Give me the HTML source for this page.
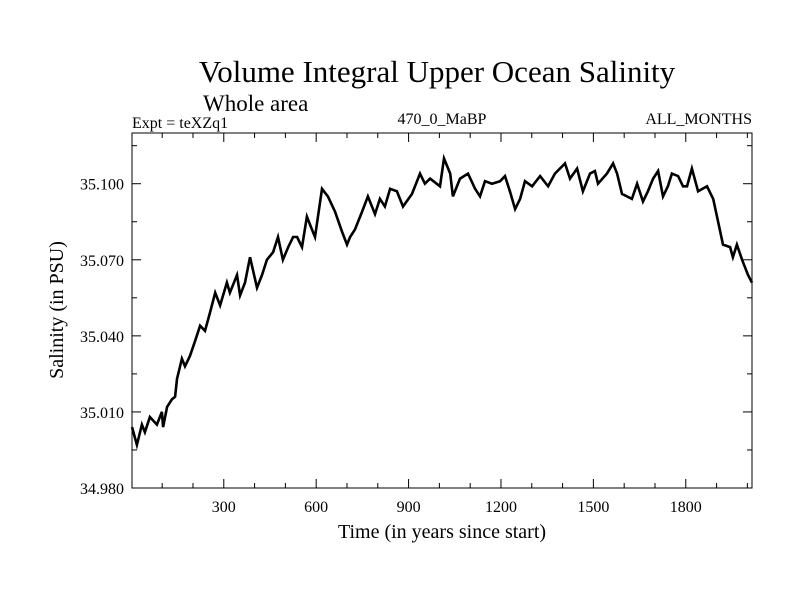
<!DOCTYPE html>
<html><head><meta charset="utf-8"><style>
body{margin:0;background:#fff}
svg text{font-family:"Liberation Serif",serif;fill:#000}
</style></head><body>
<svg id="chart" width="800" height="600">
<text x="437" y="82" font-size="31" text-anchor="middle">Volume Integral Upper Ocean Salinity</text>
<text x="203" y="111" font-size="23">Whole area</text>
<text x="132" y="128" font-size="16">Expt = teXZq1</text>
<text x="442" y="124" font-size="16" text-anchor="middle">470_0_MaBP</text>
<text x="752" y="124" font-size="16" text-anchor="end">ALL_MONTHS</text>
<text x="442" y="538" font-size="20" text-anchor="middle">Time (in years since start)</text>
<text transform="translate(63,310) rotate(-90)" font-size="20" text-anchor="middle">Salinity (in PSU)</text>
<g id="axes"></g>
<polyline id="series" fill="none" stroke="#000" stroke-width="2.6" stroke-linejoin="miter"/>
</svg>
<script>
const xTicks=[300,600,900,1200,1500,1800];
const yTicks=[34.980,35.010,35.040,35.070,35.100];
const yTickLabels=["34.980","35.010","35.040","35.070","35.100"];
const years=[2,18,34,44,60,83,99,103,116,132,142,148,164,174,190,207,223,239,255,272,288,310,320,343,353,369,385,408,424,440,460,476,492,509,525,538,554,570,586,596,619,638,661,684,700,710,726,749,768,791,807,823,840,862,882,911,937,953,970,1002,1015,1035,1044,1067,1093,1116,1132,1148,1171,1197,1213,1229,1246,1262,1278,1301,1327,1353,1375,1408,1424,1447,1466,1489,1505,1515,1544,1564,1577,1593,1625,1642,1661,1677,1694,1710,1726,1742,1755,1775,1791,1804,1820,1840,1869,1889,1905,1921,1944,1953,1966,1983,2002,2015];
const salinity=[35.004,34.997,35.005,35.002,35.008,35.005,35.010,35.004,35.012,35.015,35.016,35.023,35.031,35.028,35.032,35.038,35.044,35.042,35.049,35.057,35.052,35.061,35.057,35.064,35.056,35.061,35.071,35.059,35.064,35.070,35.073,35.079,35.070,35.075,35.079,35.079,35.075,35.087,35.082,35.079,35.098,35.095,35.089,35.081,35.076,35.079,35.082,35.089,35.095,35.088,35.094,35.091,35.098,35.097,35.091,35.096,35.104,35.100,35.102,35.099,35.110,35.104,35.095,35.102,35.104,35.098,35.095,35.101,35.100,35.101,35.103,35.097,35.090,35.094,35.101,35.099,35.103,35.099,35.104,35.108,35.102,35.106,35.097,35.104,35.105,35.100,35.104,35.108,35.104,35.096,35.094,35.100,35.093,35.097,35.102,35.105,35.095,35.099,35.104,35.103,35.099,35.099,35.106,35.097,35.099,35.094,35.085,35.076,35.075,35.071,35.076,35.070,35.064,35.061];
const L=132,R=752,T=133,B=488,XMIN=2,XMAX=2015,YMIN=34.980,YMAX=35.120;
const sx=v=>L+(v-XMIN)/(XMAX-XMIN)*(R-L);
const sy=v=>B-(v-YMIN)/(YMAX-YMIN)*(B-T);
const NS="http://www.w3.org/2000/svg";
const ax=document.getElementById('axes');
function line(x1,y1,x2,y2,name){const l=document.createElementNS(NS,'line');
l.setAttribute('x1',x1);l.setAttribute('y1',y1);l.setAttribute('x2',x2);l.setAttribute('y2',y2);
l.setAttribute('stroke','#000');l.setAttribute('stroke-width','1');


ax.appendChild(l);}
const fr=document.createElementNS(NS,'rect');
fr.setAttribute('x',L);fr.setAttribute('y',T);fr.setAttribute('width',R-L);fr.setAttribute('height',B-T);
fr.setAttribute('fill','none');fr.setAttribute('stroke','#000');


ax.appendChild(fr);
for(let y=100;y<XMAX;y+=100){const x=sx(y);const major=y%300===0;const len=major?9:5;
line(x,B,x,B-len,'x-tick');line(x,T,x,T+len,'x-tick-top');}
for(let v=YMIN;v<YMAX+1e-9;v+=0.015){const y=sy(v);const major=Math.round((v-YMIN)/0.015)%2===0;const len=major?9:5;
line(L,y,L+len,y,'y-tick');line(R,y,R-len,y,'y-tick-right');}
xTicks.forEach(t=>{const e=document.createElementNS(NS,'text');e.setAttribute('x',sx(t));e.setAttribute('y',B+24);
e.setAttribute('font-size','16');e.setAttribute('text-anchor','middle');e.textContent=t;


ax.appendChild(e);});
yTicks.forEach((t,i)=>{const e=document.createElementNS(NS,'text');e.setAttribute('x',L-8);e.setAttribute('y',sy(t)+6);
e.setAttribute('font-size','16');e.setAttribute('text-anchor','end');e.textContent=yTickLabels[i];


ax.appendChild(e);});
const pts=salinity.map((v,i)=>sx(years[i]).toFixed(1)+','+sy(v).toFixed(1));
document.getElementById('series').setAttribute('points',pts.join(' '));
</script>
</body></html>
